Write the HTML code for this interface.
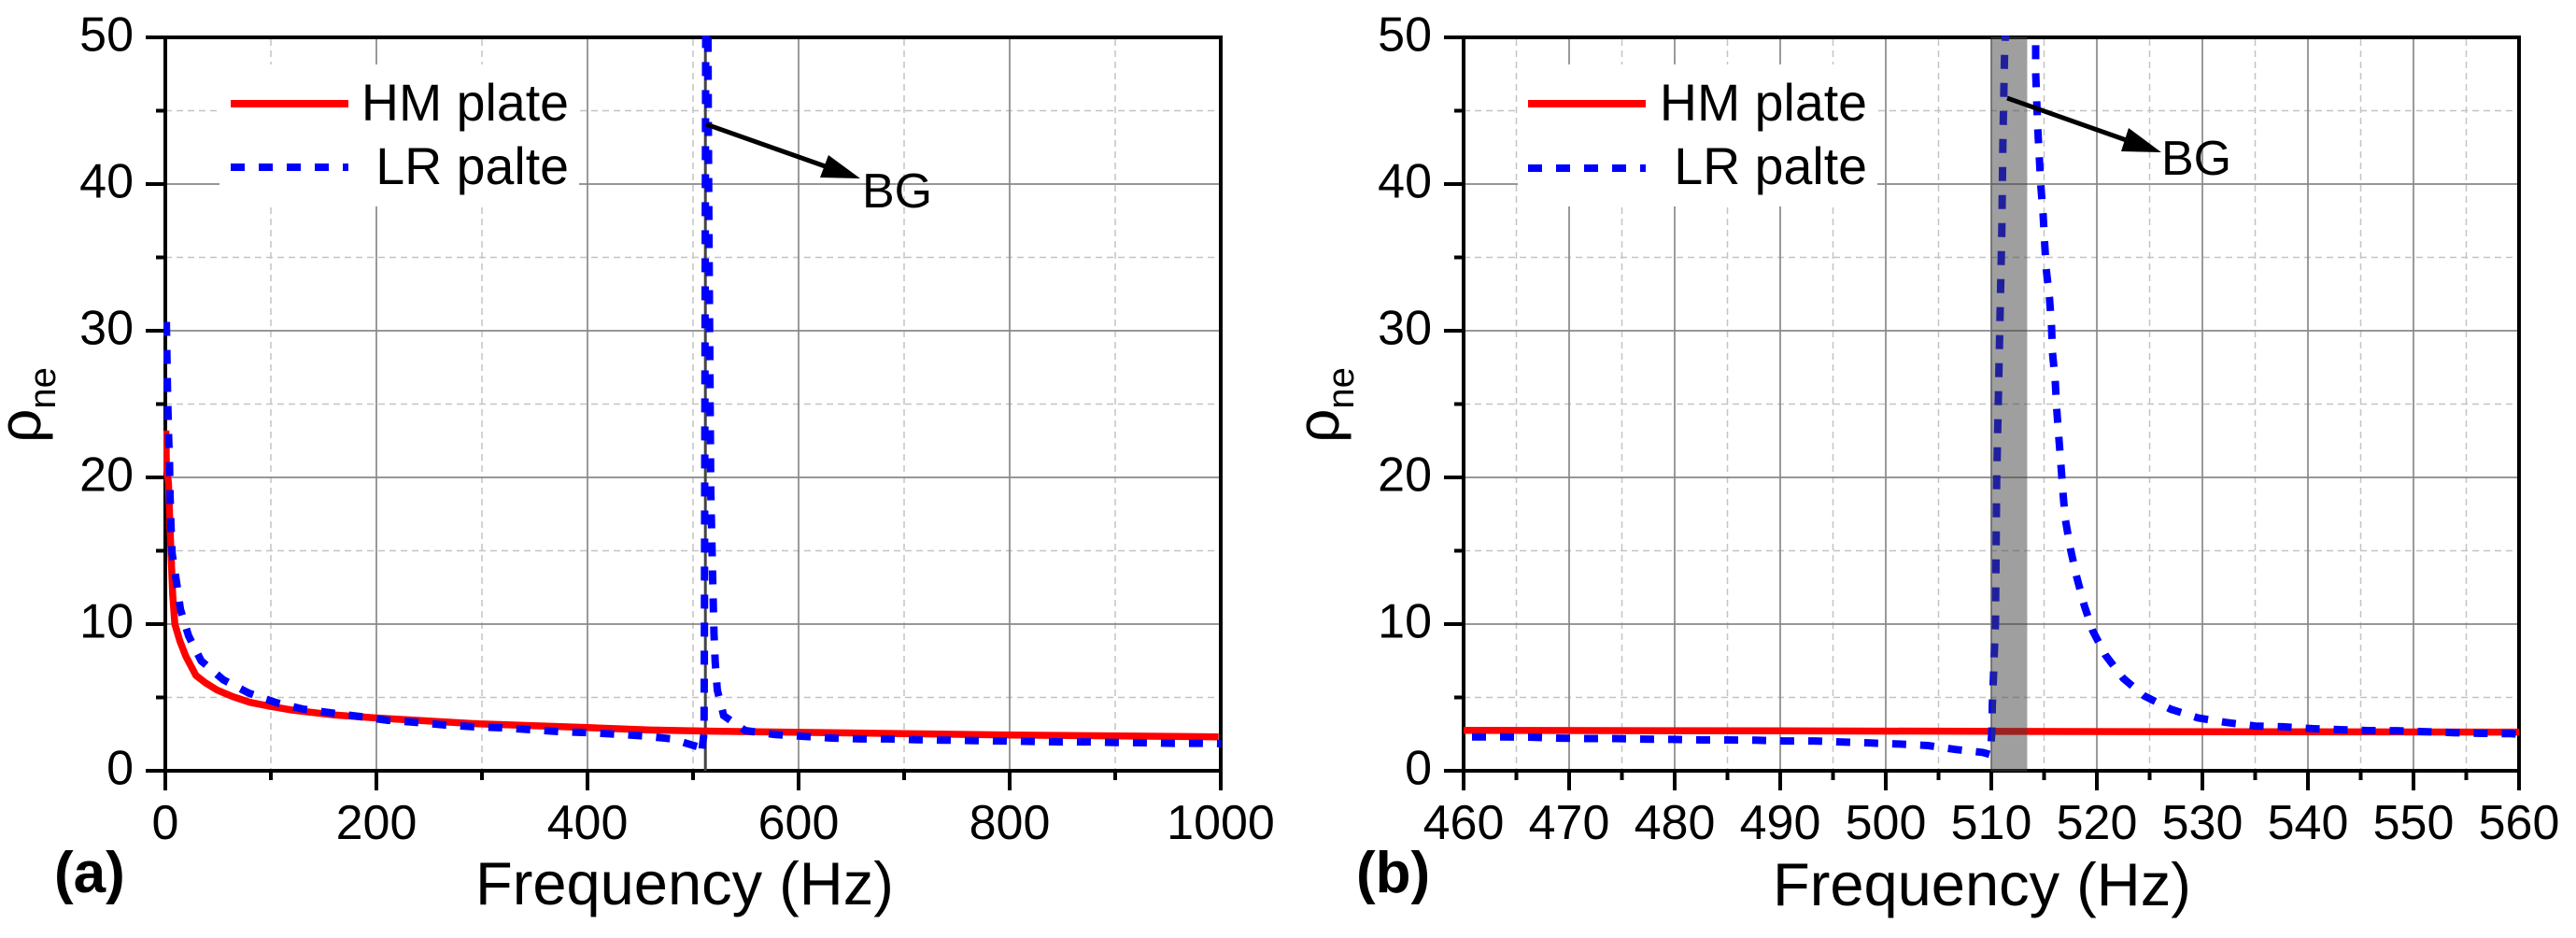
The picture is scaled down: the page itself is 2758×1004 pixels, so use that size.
<!DOCTYPE html>
<html lang="en">
<head>
<meta charset="utf-8">
<title>Frequency response of HM and LR plates</title>
<style>
html,body{margin:0;padding:0;background:#fff;}
svg{display:block;}
text{font-family:"Liberation Sans",Arial,sans-serif;fill:#000;}
</style>
</head>
<body>
<svg id="chart" xmlns="http://www.w3.org/2000/svg" width="2758" height="1004" viewBox="0 0 2758 1004">
<defs>
<clipPath id="clip-a"><rect x="175" y="38" width="1134" height="789"/></clipPath>
<clipPath id="clip-b"><rect x="1565" y="38" width="1134" height="789"/></clipPath>
</defs>
<g id="layer-a"></g>
<g id="layer-b"></g>

<g>
<text transform="translate(43,474) rotate(-90)"><tspan font-size="64">ρ</tspan><tspan font-size="40" dy="16">ne</tspan></text>
<text x="509" y="968" font-size="65">Frequency (Hz)</text>
<text x="58" y="955" font-size="62" font-weight="bold">(a)</text>
<rect x="235" y="69" width="385" height="152" fill="#fff"/>
<line x1="247" x2="373" y1="111" y2="111" stroke="#ff0000" stroke-width="8"/>
<text x="609" y="129" font-size="55.5" text-anchor="end">HM plate</text>
<line x1="247" x2="373" y1="179" y2="179" stroke="#0000ff" stroke-width="8" stroke-dasharray="15 15"/>
<text x="609" y="197" font-size="55.5" text-anchor="end">LR palte</text>
<line x1="756" y1="133" x2="892" y2="181" stroke="#000" stroke-width="5"/>
<polygon points="921,191 887,166 878,190" fill="#000"/>
<text x="923" y="222" font-size="52">BG</text>
</g>

<g>
<text transform="translate(1433,474) rotate(-90)"><tspan font-size="64">ρ</tspan><tspan font-size="40" dy="16">ne</tspan></text>
<text x="1898" y="969" font-size="65">Frequency (Hz)</text>
<text x="1452" y="955" font-size="62" font-weight="bold">(b)</text>
<rect x="1625" y="69" width="385" height="152" fill="#fff"/>
<line x1="1636" x2="1762" y1="111" y2="111" stroke="#ff0000" stroke-width="8"/>
<text x="1999" y="129" font-size="55.5" text-anchor="end">HM plate</text>
<line x1="1636" x2="1762" y1="180" y2="180" stroke="#0000ff" stroke-width="8" stroke-dasharray="15 15"/>
<text x="1999" y="197" font-size="55.5" text-anchor="end">LR palte</text>
</g>
<g id="layer-b-top"></g>
<g>
<line x1="2149" y1="105" x2="2285" y2="153" stroke="#000" stroke-width="5"/>
<polygon points="2314,163 2279,137 2271,162" fill="#000"/>
<text x="2314" y="187" font-size="52">BG</text>
</g>
</svg>

<script>
// Shared y axis
const yMajorTicks = [0, 10, 20, 30, 40, 50];
const yMinorTicks = [5, 15, 25, 35, 45];

// Panel (a) x axis
const xMajorTicksA = [0, 200, 400, 600, 800, 1000];
const xMinorTicksA = [100, 300, 500, 700, 900];

// Panel (a) HM plate
const hmFreqA = [0.5, 1, 2, 3, 5, 7, 9, 14, 19.5, 29, 38, 49, 64, 80, 100, 120, 160, 200, 297, 400, 445, 460, 500, 603, 801, 998];
const hmRhoA = [23.2, 21, 20.2, 19.6, 15.5, 12, 10, 8.8, 7.8, 6.5, 6, 5.5, 5.05, 4.67, 4.38, 4.14, 3.8, 3.6, 3.2, 2.94, 2.82, 2.78, 2.72, 2.62, 2.44, 2.31];

// Panel (a) LR plate
const lrFreqA = [1, 2, 3, 4, 4.5, 5.3, 6.5, 10.5, 14.3, 22, 34, 55, 79, 105, 131, 157, 184, 211, 238, 265, 292, 319, 346, 373, 400, 427, 454, 480, 504, 508, 510.4, 510.8, 511.2, 512, 514.2, 514.4, 515, 516.8, 518.6, 519.8, 521, 523, 529, 549.6, 577, 604, 631, 658, 684, 711, 738, 766, 793, 820, 846.5, 873, 900, 927, 955, 981, 1000];
const lrRhoA = [30.6, 26, 23, 21, 18.7, 16.8, 14.8, 12.9, 11, 9.2, 7.5, 6.2, 5.3, 4.65, 4.2, 3.95, 3.7, 3.44, 3.3, 3.12, 3.0, 2.93, 2.8, 2.67, 2.6, 2.5, 2.37, 2.17, 1.65, 1.15, 2.6, 10, 25, 50.5, 50.5, 45, 38, 19, 13.2, 9.4, 7.45, 5.5, 3.76, 2.74, 2.48, 2.35, 2.23, 2.17, 2.17, 2.12, 2.09, 2.06, 2.03, 2.0, 1.97, 1.97, 1.93, 1.91, 1.87, 1.87, 1.85];

// Panel (a) band gap marker
const bandFreqA = [511.7];

// Panel (b) x axis
const xMajorTicksB = [460, 470, 480, 490, 500, 510, 520, 530, 540, 550, 560];
const xMinorTicksB = [465, 475, 485, 495, 505, 515, 525, 535, 545, 555];

// Panel (b) HM plate
const hmFreqB = [460, 490, 524, 560];
const hmRhoB = [2.75, 2.72, 2.67, 2.64];

// Panel (b) LR plate
const lrFreqB = [460.8, 463.5, 466.2, 469, 471.6, 474.3, 477, 479.7, 482.4, 485, 487.7, 490.4, 493.2, 495.9, 498.6, 501.3, 504, 506.6, 509.2, 509.9, 510.05, 510.1, 510.2, 510.3, 510.4, 510.5, 511, 511.1, 511.25, 511.35, 514.2, 514.2, 514.3, 514.4, 514.7, 514.9, 515.04, 515.2, 515.5, 515.7, 515.8, 516.05, 516.2, 516.4, 516.6, 516.8, 517, 517.5, 518.1, 518.8, 519.6, 520.8, 522.5, 524.5, 527, 529.6, 532.2, 535, 537.6, 540.4, 543, 545.7, 548.4, 551, 553.8, 556.5, 559.2, 560];
const lrRhoB = [2.31, 2.31, 2.29, 2.22, 2.2, 2.2, 2.16, 2.14, 2.1, 2.1, 2.08, 2.03, 2.03, 1.96, 1.89, 1.82, 1.72, 1.45, 1.25, 1.1, 2.7, 4.5, 6.4, 8.3, 10.2, 19.7, 37, 42.9, 48.6, 50.5, 50.5, 47.6, 45.7, 43.8, 39.8, 38, 36.1, 34.2, 32.3, 30.4, 28.5, 26.6, 24.6, 22.7, 20.8, 18.9, 17.2, 15.1, 13.2, 11.3, 9.55, 7.9, 6.3, 5.1, 4.2, 3.6, 3.3, 3.05, 3.0, 2.87, 2.8, 2.74, 2.73, 2.67, 2.6, 2.55, 2.53, 2.5];

// Panel (b) shaded band gap
const bandStartB = [509.95];
const bandEndB = [513.4];

const SVG_NS = 'http://www.w3.org/2000/svg';

function mk(parent, tag, attrs, content) {
  const el = document.createElementNS(SVG_NS, tag);
  for (const key in attrs) { el.setAttribute(key, attrs[key]); }
  if (content !== undefined) { el.textContent = content; }
  parent.appendChild(el);
  return el;
}

function yScale(v) { return 825 - v * 15.7; }
function scaleA(f) { return 177 + f * 1.13; }
function scaleB(f) { return 1567 + (f - 460) * 11.3; }

function pointsOf(freqs, rhos, xScale) {
  return freqs.map(function (f, i) { return xScale(f).toFixed(1) + ',' + yScale(rhos[i]).toFixed(1); }).join(' ');
}

function drawFrame(layer, xScale, majors, minors, left, right, labelRight, key) {
  minors.forEach(function (t) {
    const gx = mk(layer, 'line', {x1: xScale(t), x2: xScale(t), y1: 42, y2: 825, stroke: '#c4c4c4', 'stroke-width': 1.5, 'stroke-dasharray': '7 5'});
    
    
  });
  yMinorTicks.forEach(function (t) {
    const gy = mk(layer, 'line', {x1: left, x2: right, y1: yScale(t), y2: yScale(t), stroke: '#c4c4c4', 'stroke-width': 1.5, 'stroke-dasharray': '7 5'});
    
    
  });
  majors.forEach(function (t) {
    const gx = mk(layer, 'line', {x1: xScale(t), x2: xScale(t), y1: 42, y2: 825, stroke: '#888888', 'stroke-width': 1.7});
    
    
  });
  yMajorTicks.forEach(function (t) {
    const gy = mk(layer, 'line', {x1: left, x2: right, y1: yScale(t), y2: yScale(t), stroke: '#888888', 'stroke-width': 1.7});
    
    
  });
  majors.forEach(function (t) {
    const tick = mk(layer, 'line', {x1: xScale(t), x2: xScale(t), y1: 825, y2: 846, stroke: '#000', 'stroke-width': 4});
    
    
    const label = mk(layer, 'text', {x: xScale(t), y: 898, 'font-size': 52, 'text-anchor': 'middle'}, String(t));
    
    
  });
  minors.forEach(function (t) {
    const tick = mk(layer, 'line', {x1: xScale(t), x2: xScale(t), y1: 825, y2: 835, stroke: '#000', 'stroke-width': 4});
    
    
  });
  yMajorTicks.forEach(function (t) {
    const tick = mk(layer, 'line', {x1: left - 21, x2: left, y1: yScale(t), y2: yScale(t), stroke: '#000', 'stroke-width': 4});
    
    
    const label = mk(layer, 'text', {x: labelRight, y: yScale(t) + 14.5, 'font-size': 52, 'text-anchor': 'end'}, String(t));
    
    
  });
  yMinorTicks.forEach(function (t) {
    const tick = mk(layer, 'line', {x1: left - 10, x2: left, y1: yScale(t), y2: yScale(t), stroke: '#000', 'stroke-width': 4});
    
    
  });
  const frame = mk(layer, 'rect', {x: left, y: 40, width: right - left, height: 785, fill: 'none', stroke: '#000', 'stroke-width': 4});
  
  
}

const layerA = document.getElementById('layer-a');
const layerB = document.getElementById('layer-b');
const layerBTop = document.getElementById('layer-b-top');

drawFrame(layerA, scaleA, xMajorTicksA, xMinorTicksA, 177, 1307, 143, 'a');
drawFrame(layerB, scaleB, xMajorTicksB, xMinorTicksB, 1567, 2697, 1533, 'b');

const dataA = mk(layerA, 'g', {'clip-path': 'url(#clip-a)'});



bandFreqA.forEach(function (f) {
  const marker = mk(dataA, 'line', {x1: scaleA(f), x2: scaleA(f), y1: 42, y2: 825, stroke: '#444444', 'stroke-width': 3});
  
  
});

const hmLineA = mk(dataA, 'polyline', {points: pointsOf(hmFreqA, hmRhoA, scaleA), fill: 'none', stroke: '#ff0000', 'stroke-width': 7.5, 'stroke-linejoin': 'round'});



const lrLineA = mk(dataA, 'polyline', {points: pointsOf(lrFreqA, lrRhoA, scaleA), fill: 'none', stroke: '#0000ff', 'stroke-width': 8, 'stroke-dasharray': '15 15'});



const dataB = mk(layerB, 'g', {'clip-path': 'url(#clip-b)'});



const hmLineB = mk(dataB, 'polyline', {points: pointsOf(hmFreqB, hmRhoB, scaleB), fill: 'none', stroke: '#ff0000', 'stroke-width': 7.5});



const lrLineB = mk(dataB, 'polyline', {points: pointsOf(lrFreqB, lrRhoB, scaleB), fill: 'none', stroke: '#0000ff', 'stroke-width': 8, 'stroke-dasharray': '15 15'});



bandStartB.forEach(function (start, i) {
  const band = mk(layerBTop, 'rect', {x: scaleB(start), y: 39, width: scaleB(bandEndB[i]) - scaleB(start), height: 787, fill: 'rgba(64,64,64,0.5)'});
  
  
});
</script>
</body>
</html>
